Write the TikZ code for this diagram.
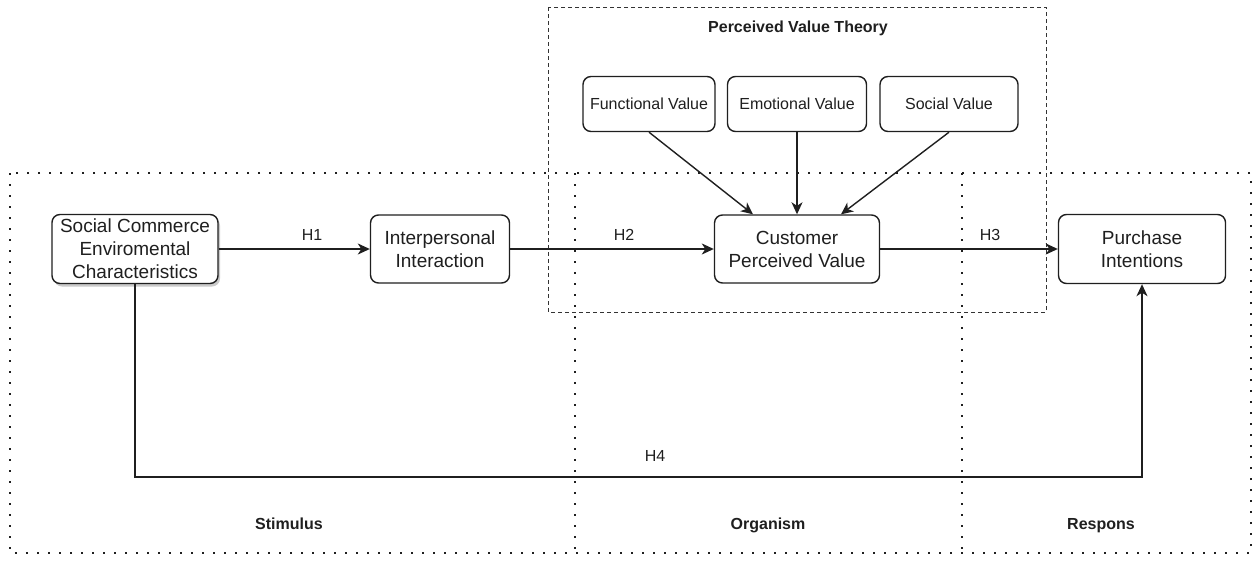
\documentclass[tikz,border=0pt]{standalone}
\usepackage{fontspec}
\setmainfont{Liberation Sans}
\usetikzlibrary{arrows.meta,shadows}
\begin{document}
\begin{tikzpicture}[x=1pt,y=-1pt,
  every node/.style={text=black!88},
  box/.style={draw=black!88,line width=1.4pt,rounded corners=8pt,fill=white,
    align=center,inner sep=0pt,font=\fontsize{19}{23}\selectfont},
  smallbox/.style={box,font=\fontsize{16}{19}\selectfont},
  lbl/.style={anchor=base,font=\fontsize{16}{19}\selectfont},
  blbl/.style={anchor=base,font=\bfseries\fontsize{16}{19}\selectfont},
  arr/.style={draw=black!88,line width=1.4pt,-{Stealth[length=12pt,width=11pt,inset=3.5pt]}},
  dots/.style={draw=black!88,line width=2.4pt,line cap=butt,dash pattern=on 2.4pt off 8.6pt},
  dashbox/.style={draw=black!80,line width=0.9pt,dash pattern=on 4pt off 3pt}]
\useasboundingbox (0,0) rectangle (1257,560);
% stimulus / organism / response frame
\draw[dots] (10,173) rectangle (1251,553);
\draw[dots] (575,173) -- (575,553);
\draw[dots] (962,173) -- (962,553);
% perceived value theory frame
\draw[dashbox] (548,7) rectangle (1046,312);
\node[blbl] (pvt) at (798,32) {Perceived Value Theory};
% boxes
\node[box,minimum width=166pt,minimum height=69pt,
  drop shadow={shadow xshift=2pt,shadow yshift=-3pt,opacity=0.35,fill=black!60}]
  (sce) at (135,249) {Social Commerce\\Enviromental\\Characteristics};
\node[box,minimum width=139pt,minimum height=68pt] (ii) at (440,249) {Interpersonal\\Interaction};
\node[box,minimum width=165pt,minimum height=68pt] (cpv) at (797,249) {Customer\\Perceived Value};
\node[box,minimum width=167pt,minimum height=69pt] (pi) at (1142,249) {Purchase\\Intentions};
\node[smallbox,minimum width=132pt,minimum height=55pt] (fv) at (649,104) {Functional Value};
\node[smallbox,minimum width=139pt,minimum height=55pt] (ev) at (797,104) {Emotional Value};
\node[smallbox,minimum width=138pt,minimum height=55pt] (sv) at (949,104) {Social Value};
% connectors
\draw[arr] (sce.east) -- (ii.west);
\draw[arr] (ii.east) -- (cpv.west);
\draw[arr] (cpv.east) -- (pi.west);
\draw[arr] (fv.south) -- ([xshift=-44pt]cpv.north);
\draw[arr] (ev.south) -- (cpv.north);
\draw[arr] (sv.south) -- ([xshift=44pt]cpv.north);
\coordinate (h4) at (135,477);
\draw[arr] (sce.south) -- (h4) -| (pi.south);
% hypothesis labels
\node[lbl] (h1) at (312,240) {H1};
\node[lbl] (h2) at (624,240) {H2};
\node[lbl] (h3) at (990,240) {H3};
\node[lbl] (h4l) at (655,461) {H4};
% stage labels
\node[blbl] (st) at (289,529) {Stimulus};
\node[blbl] (org) at (768,529) {Organism};
\node[blbl] (res) at (1101,529) {Respons};
\end{tikzpicture}
\end{document}
